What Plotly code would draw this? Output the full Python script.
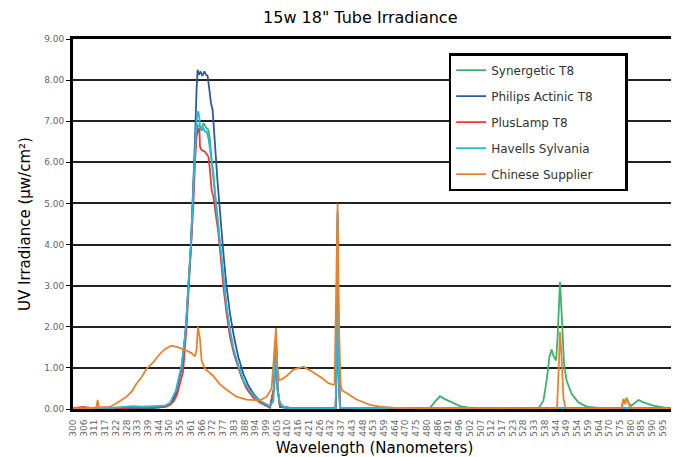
import plotly.graph_objects as go

# x positions are read on the chart's (category) wavelength scale
tick_labels = ["300","306","311","317","322","328","333","339","344","350","355","361","366","372",
               "377","383","388","394","399","405","410","416","421","426","432","437","443","448",
               "453","459","464","470","475","480","486","491","496","502","507","512","517","523",
               "528","533","538","544","549","554","559","564","570","575","580","585","590","595"]

syn_x = [300, 310, 320, 330, 340, 343.5, 346, 348.5, 350.2, 351.5, 353, 354.3, 355.5, 356.5, 357.7, 359, 359.8,
         360.7, 361.5, 362.3, 363.2, 364.3, 365.2, 366, 366.8, 367.7, 368.5, 369.3, 370.2, 371.3, 372.7, 374,
         375.5, 376.8, 378.5, 380.5, 382.7, 385.2, 387.7, 390.2, 393.5, 398.5, 400.5, 401.5, 402.3, 403.5, 410,
         420, 431.3, 431.8, 432.3, 432.8, 433.5, 450, 470, 478.5, 481, 483.5, 486, 488.5, 491, 493.5, 498.5, 505,
         520, 532.7, 535.2, 536.8, 538.2, 539.3, 540.2, 541.5, 542.3, 543.5, 544.5, 545.5, 546.8, 549.3, 552.7,
         556.8, 563.5, 570, 574.3, 575.2, 576, 576.8, 577.8, 579.2, 581, 582.7, 585.2, 590.2, 595.2, 601.5]
syn_y = [0.02, 0.02, 0.03, 0.03, 0.03, 0.04, 0.06, 0.12, 0.25, 0.4, 0.75, 1.0, 1.5, 2.0, 3.0, 4.0, 5.0,
         6.0, 6.7, 6.9, 6.87, 6.83, 6.95, 6.87, 6.83, 6.79, 6.54, 6.06, 5.65, 5.08, 4.43, 3.74,
         3.05, 2.44, 1.87, 1.38, 1.02, 0.69, 0.45, 0.28, 0.16, 0.04, 0.5, 1.5, 0.5, 0.05, 0.02,
         0.02, 0.02, 1.0, 4.3, 1.0, 0.03, 0.02, 0.02, 0.03, 0.18, 0.31, 0.24, 0.18, 0.14, 0.07, 0.03, 0.02,
         0.02, 0.02, 0.2, 0.69, 1.26, 1.45, 1.3, 1.18, 1.75, 3.09, 2.15, 1.1, 0.69, 0.37, 0.16,
         0.06, 0.02, 0.02, 0.02, 0.24, 0.12, 0.27, 0.14, 0.08, 0.16, 0.22, 0.16, 0.08, 0.04, 0.02]

phi_x = [300, 310, 320, 330, 340, 343.5, 346, 348.5, 350.2, 351.5, 353, 354.3, 355.5, 356.5, 357.7, 359, 359.8,
         360.7, 361.3, 361.8, 362.3, 363, 363.8, 364.7, 365.7, 366.5, 367.3, 368.2, 369, 369.8, 370.5, 371.3,
         372.2, 373.2, 374.3, 375.5, 376.8, 378.5, 380.5, 382.7, 385.2, 387.7, 390.2, 393.5, 396.8, 398.5,
         400.5, 401.5, 402.3, 403.5, 410, 420, 431.3, 431.8, 432.3, 432.8, 433.5, 450, 500, 601.5]
phi_y = [0.02, 0.02, 0.02, 0.03, 0.03, 0.04, 0.06, 0.12, 0.25, 0.4, 0.75, 1.0, 1.5, 2.0, 3.0, 4.0, 5.0,
         6.0, 7.0, 7.8, 8.25, 8.13, 8.21, 8.1, 8.21, 8.13, 8.1, 7.76, 7.44, 7.28, 6.87, 6.22,
         5.57, 4.92, 4.27, 3.62, 2.97, 2.32, 1.75, 1.26, 0.85, 0.57, 0.37, 0.2, 0.08, 0.04,
         0.5, 1.7, 0.5, 0.05, 0.02, 0.02, 0.02, 1.2, 4.8, 1.2, 0.03, 0.02, 0.02, 0.02]

plus_x = [300, 305, 310, 315, 320, 330, 340, 343.5, 346, 348.5, 350.5, 352, 353.5, 355, 356.8, 358, 359.3,
          360.2, 361, 361.8, 362.7, 363.2, 363.5, 364.3, 366, 367.7, 368.5, 369.3, 370.2, 371.5, 372.7, 374,
          375.2, 376.8, 378.5, 380.5, 382.2, 384.3, 386.8, 390.2, 393.5, 398.5, 400.5, 401.5, 402.3, 403.5,
          410, 420, 431.3, 431.8, 432.3, 432.8, 433.5, 450, 500, 601.5]
plus_y = [0.02, 0.05, 0.02, 0.04, 0.02, 0.03, 0.03, 0.03, 0.05, 0.1, 0.2, 0.35, 0.6, 0.9, 2.0, 3.0, 4.0,
          5.0, 6.0, 6.63, 6.83, 6.8, 6.38, 6.3, 6.26, 6.14, 5.81, 5.33, 5.16, 4.67, 4.27, 3.62,
          2.97, 2.32, 1.75, 1.34, 1.1, 0.77, 0.49, 0.28, 0.16, 0.04, 0.5, 1.6, 0.5, 0.05,
          0.02, 0.02, 0.02, 1.0, 4.2, 1.0, 0.03, 0.02, 0.02, 0.02]

hav_x = [300, 310, 320, 325, 330, 335, 340, 343.5, 346, 348.5, 350.2, 351.5, 353, 354.3, 355.5, 356.5, 357.7,
         359, 359.8, 360.7, 361.5, 362.2, 362.7, 363.2, 363.5, 364.3, 365.2, 366, 366.8, 367.7, 368.5, 369.3,
         370.2, 371.3, 372.7, 374, 375.5, 376.8, 378.5, 380.5, 382.7, 385.2, 387.7, 390.2, 393.5, 396.8,
         398.5, 400.2, 401.5, 402.3, 403.5, 406, 420, 431.3, 431.8, 432.3, 432.8, 433.5, 450, 500, 601.5]
hav_y = [0.02, 0.02, 0.03, 0.05, 0.07, 0.06, 0.07, 0.06, 0.08, 0.15, 0.3, 0.45, 0.8, 1.05, 1.55, 2.05, 3.0,
         4.0, 5.0, 6.0, 6.8, 7.2, 7.24, 7.07, 6.87, 6.77, 6.83, 6.75, 6.75, 6.59, 6.34, 6.06,
         5.73, 5.08, 4.43, 3.78, 3.05, 2.48, 1.91, 1.42, 1.06, 0.69, 0.49, 0.33, 0.2, 0.12,
         0.07, 0.19, 1.6, 0.45, 0.15, 0.02, 0.02, 0.02, 1.1, 4.6, 1.1, 0.03, 0.02, 0.02, 0.02]

chn_x = [300, 305, 310, 311.8, 312.3, 313, 318.5, 321.8, 324.3, 326.8, 329.3, 331.8, 334.3, 336.8, 340.2, 342.7,
         346, 349.3, 352.7, 356, 359.3, 361, 361.8, 362.5, 363.5, 364.3, 366, 370.2, 373.5, 376.8, 381.8, 386.8,
         393.5, 396.8, 399.3, 400.5, 401.5, 402.2, 403, 404.3, 406.8, 410.2, 413.5, 415.2, 418.5, 421.8, 425.2,
         427.7, 430.2, 430.8, 431.5, 432.3, 433.0, 433.8, 434.5, 436.8, 441.8, 448.5, 453.5, 460, 473.5, 500,
         542, 542.8, 543.5, 544.3, 545.2, 546.2, 574.3, 575.2, 576, 576.8, 577.8, 578.8, 601.5]
chn_y = [0.0, 0.01, 0.02, 0.05, 0.22, 0.03, 0.05, 0.14, 0.22, 0.3, 0.42, 0.62, 0.78, 0.98, 1.14, 1.3,
         1.46, 1.54, 1.5, 1.44, 1.36, 1.28, 1.45, 2.0, 1.7, 1.18, 0.98, 0.8, 0.6, 0.47, 0.3, 0.23,
         0.21, 0.3, 0.5, 1.2, 1.97, 1.04, 0.7, 0.72, 0.8, 0.96, 1.0, 1.03, 0.94, 0.84, 0.73,
         0.63, 0.59, 0.6, 2.5, 5.0, 2.0, 0.6, 0.45, 0.39, 0.23, 0.1, 0.06, 0.03, 0.02, 0.01,
         0.01, 0.93, 1.87, 1.26, 0.28, 0.01, 0.01, 0.24, 0.12, 0.27, 0.14, 0.01, 0.01]

series = [
    ("Synergetic T8", syn_x, syn_y, "#3bb36b"),
    ("Philips Actinic T8", phi_x, phi_y, "#2e5b95"),
    ("PlusLamp T8", plus_x, plus_y, "#ec3a2c"),
    ("Havells Sylvania", hav_x, hav_y, "#27b7e2"),
    ("Chinese Supplier", chn_x, chn_y, "#ea812c"),
]

x_min, x_max = 300, 601.5
tick_vals = [300 + i * (295 / 55) for i in range(len(tick_labels))]

fig = go.Figure()
pad = "\u00a0" * 7
for name, xs, ys, col in series:
    fig.add_trace(go.Scatter(x=xs, y=ys, mode="lines", name=name + pad, legendgroup=name,
                             line=dict(color=col, width=1.8)))

# page body adds an 8px offset, so the figure is 8px smaller than the window
fig.update_layout(
    width=671, height=449,
    margin=dict(l=65, r=3, t=31, b=48, autoexpand=False),
    plot_bgcolor="white", paper_bgcolor="white",
    font=dict(family="DejaVu Sans", color="black"),
    title=dict(text='15w 18" Tube Irradiance', x=0.525, xanchor="center", y=1 - 9 / 449, yanchor="middle",
               font=dict(size=16, family="DejaVu Sans", color="black")),
    legend=dict(x=0.623, y=0.962, xanchor="left", yanchor="top", bgcolor="white",
                bordercolor="black", borderwidth=2.5, font=dict(size=12, color="#333"),
                tracegroupgap=7, itemwidth=30),
    showlegend=True,
)
fig.update_xaxes(range=[x_min, x_max], tickmode="array", tickvals=tick_vals, ticktext=tick_labels,
                 tickangle=-90, tickfont=dict(size=9, color="#666"), showgrid=False, zeroline=False,
                 showline=True, linewidth=3, linecolor="black", mirror=True, ticks="", automargin=False,
                 ticklabelstandoff=4,
                 title=dict(text="Wavelength (Nanometers)", font=dict(size=15, color="black"), standoff=19))
fig.update_yaxes(range=[0, 9], dtick=1, tickformat=".2f", tickfont=dict(size=9, color="#666"),
                 showgrid=True, gridcolor="#222", gridwidth=2, zeroline=False,
                 showline=True, linewidth=3, linecolor="black", mirror=True,
                 ticks="outside", ticklen=4, tickcolor="black", automargin=False,
                 title=dict(text="UV Irradiance (μw/cm²)", font=dict(size=15, color="black"), standoff=10))

fig.write_html("out.html")
